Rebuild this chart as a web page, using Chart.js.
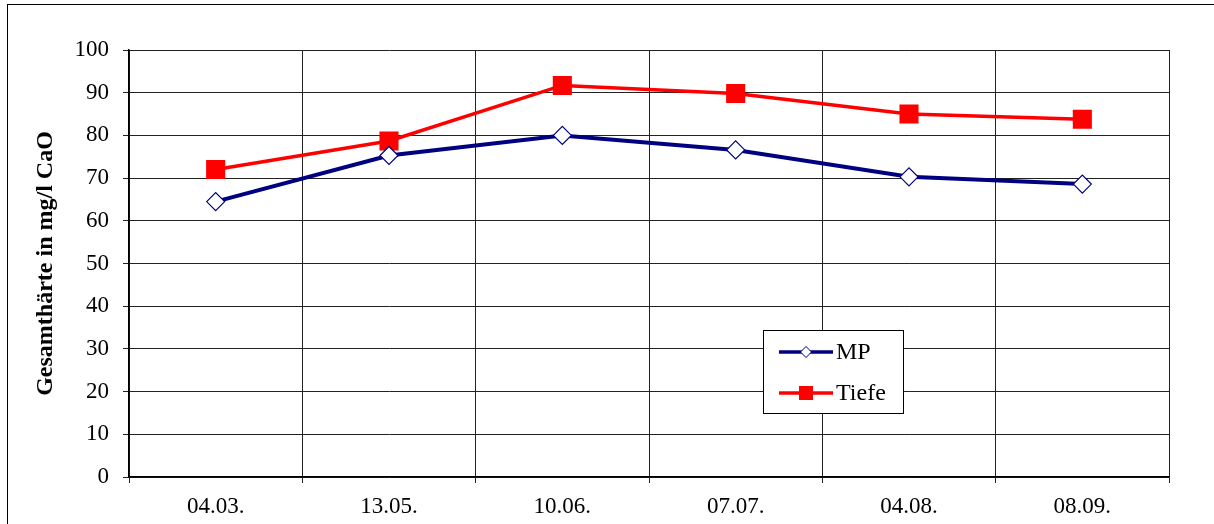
<!DOCTYPE html>
<html>
<head>
<meta charset="utf-8">
<script src="https://cdn.jsdelivr.net/npm/chart.js@4"></script>
<style>
  body { margin: 0; background: #fff; }
  #wrap { position: relative; width: 1214px; height: 524px; overflow: hidden; }
  #frame { position: absolute; left: 7px; top: 4px; width: 1220px; height: 540px; border: 1px solid #000; }
  canvas { position: absolute; left: 0; top: 0; }
</style>
</head>
<body>
<div id="wrap">
  <div id="frame"></div>
  <canvas id="chart" width="1214" height="524"></canvas>
</div>
<script>
const labels = ["04.03.", "13.05.", "10.06.", "07.07.", "04.08.", "08.09."];
const mpValues = [64.5, 75.3, 80.0, 76.6, 70.3, 68.6];
const tiefeValues = [72.0, 78.7, 91.7, 89.8, 85.0, 83.8];
const yTitle = "Gesamthärte in mg/l CaO";

const serif = "'Liberation Serif', 'Times New Roman', serif";

// Legend box drawn inside the plot area, like the original
const boxLegend = {
  id: "boxLegend",
  afterDraw(chart) {
    const ctx = chart.ctx;
    const x0 = 763, y0 = 330, w = 140, h = 83;
    ctx.save();
    ctx.fillStyle = "#fff";
    ctx.fillRect(x0, y0, w, h);
    ctx.strokeStyle = "#000";
    ctx.lineWidth = 1;
    ctx.strokeRect(x0 + 0.5, y0 + 0.5, w, h);
    const rows = [
      { ds: chart.data.datasets[0], y: 352, diamond: true, r: 5.5 },
      { ds: chart.data.datasets[1], y: 393, diamond: false, r: 7 }
    ];
    rows.forEach(row => {
      ctx.strokeStyle = row.ds.borderColor;
      ctx.lineWidth = 3.5;
      ctx.beginPath();
      ctx.moveTo(779, row.y);
      ctx.lineTo(833, row.y);
      ctx.stroke();
      ctx.fillStyle = row.ds.pointBackgroundColor;
      ctx.strokeStyle = row.ds.pointBorderColor;
      ctx.lineWidth = 1;
      ctx.beginPath();
      if (!row.diamond) {
        ctx.fillRect(806 - row.r, row.y - row.r, 2 * row.r, 2 * row.r);
      } else {
        ctx.moveTo(806, row.y - row.r);
        ctx.lineTo(806 + row.r, row.y);
        ctx.lineTo(806, row.y + row.r);
        ctx.lineTo(806 - row.r, row.y);
        ctx.closePath();
        ctx.fill();
        ctx.stroke();
      }
      ctx.fillStyle = "#000";
      ctx.font = "24px " + serif;
      ctx.textBaseline = "middle";
      ctx.textAlign = "left";
      ctx.fillText(row.ds.label, 836, row.y + 1);
    });
    ctx.restore();
  }
};

new Chart(document.getElementById("chart"), {
  type: "line",
  data: {
    labels,
    datasets: [
      {
        label: "MP",
        data: mpValues,
        borderColor: "#000080",
        borderWidth: 4,
        pointStyle: "rectRot",
        pointRadius: 9,
        pointBackgroundColor: "#fff",
        pointBorderColor: "#000080",
        pointBorderWidth: 1.2,
        tension: 0
      },
      {
        label: "Tiefe",
        data: tiefeValues,
        borderColor: "#ff0000",
        borderWidth: 3.5,
        pointStyle: "rect",
        pointRadius: 13.5,
        pointBackgroundColor: "#ff0000",
        pointBorderColor: "#ff0000",
        pointBorderWidth: 0,
        tension: 0
      }
    ]
  },
  options: {
    responsive: false,
    animation: false,
    layout: { padding: { left: 0, top: 50, right: 45, bottom: 0 } },
    plugins: { legend: { display: false }, tooltip: { enabled: false } },
    scales: {
      x: {
        offset: true,
        grid: { offset: true, color: "#222", lineWidth: 1, tickLength: 6 },
        border: { color: "#000", width: 1.5 },
        ticks: { color: "#000", font: { family: serif, size: 23 }, padding: 10, maxRotation: 0 },
        afterFit(scale) { scale.height = 47; }
      },
      y: {
        min: 0,
        max: 100,
        ticks: { stepSize: 10, color: "#000", font: { family: serif, size: 23 }, padding: 14 },
        grid: { color: "#222", lineWidth: 1, tickLength: 6 },
        border: { color: "#000", width: 1.5 },
        title: {
          display: true,
          text: yTitle,
          color: "#000",
          font: { family: serif, size: 24, weight: "bold" },
          padding: { top: 31, bottom: 0 }
        },
        afterFit(scale) { scale.width = 129; }
      }
    }
  },
  plugins: [boxLegend]
});
</script>
</body>
</html>
